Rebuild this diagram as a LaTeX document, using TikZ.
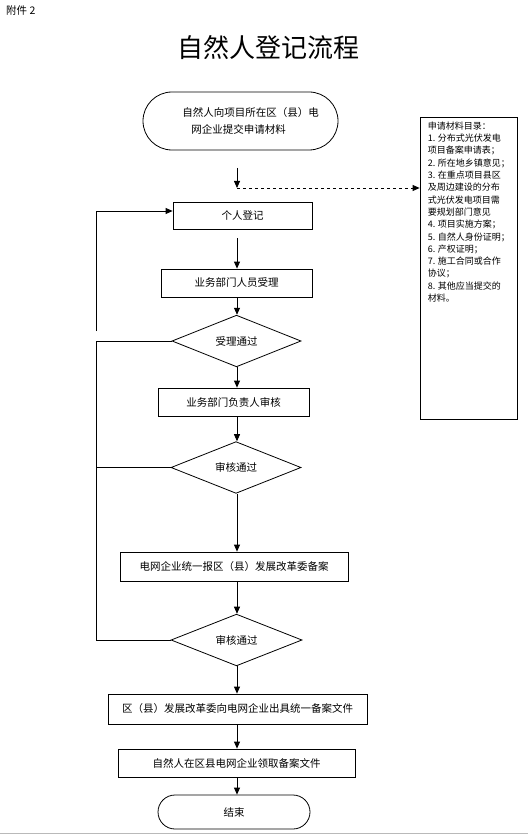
\documentclass[tikz,border=0pt]{standalone}
\usepackage{fontspec}
\setmainfont{Noto Sans CJK SC}
\usepackage{tikz}
\usetikzlibrary{arrows.meta,shapes.geometric,calc}
\usepackage{xcolor}
\definecolor{InkK} {RGB}{0,  0,  0}
\definecolor{PageG}{RGB}{185,185,185}

\begin{document}
\begin{tikzpicture}[x=1pt,y=-1pt,
    every node/.style={font=\fontsize{10.5}{12}\selectfont,inner sep=0pt},
    box/.style={draw=InkK,line width=0.8pt,rectangle,minimum height=28pt},
    term/.style={draw=InkK,line width=0.8pt,rounded corners=17pt},
    check/.style={draw=InkK,line width=0.8pt,diamond,minimum width=130pt,minimum height=47pt},
    arr/.style={-{Triangle[length=7pt,width=6pt]},line width=0.8pt,InkK},
    back/.style={line width=0.8pt,InkK}]
  \useasboundingbox (0,0) rectangle (528,837);
  \draw[PageG,line width=0.6pt] (0,833) -- (528,833);

  % heading
  \node[anchor=west] (att) at (6,10.5) {附件 2};
  \node[font=\fontsize{26}{30}\selectfont] (title) at (268,47.5) {自然人登记流程};

  % main column
  \node[term,rounded corners=29pt,minimum width=195pt,minimum height=58pt,align=left] (start) at (240.5,121)
    {\hspace*{20pt}自然人向项目所在区（县）电\\[5pt]\hspace*{29pt}网企业提交申请材料};
  \node[box,minimum width=139pt,minimum height=27pt] (reg) at (242.5,215.5) {个人登记};
  \node[box,minimum width=151pt] (acc) at (236.5,283) {业务部门人员受理};
  \node[check,minimum width=129pt,minimum height=46pt] (okA) at (236.5,341) {受理通过};
  \node[box,minimum width=151pt] (rev) at (233.5,402) {业务部门负责人审核};
  \node[check] (okB) at (236,467.5) {审核通过};
  \node[box,minimum width=228pt,minimum height=29pt] (grid) at (234,566.5) {电网企业统一报区（县）发展改革委备案};
  \node[check,minimum width=131pt,minimum height=48pt] (okC) at (236.5,640) {审核通过};
  \node[box,minimum width=259pt,minimum height=30pt] (file) at (237.5,709) {区（县）发展改革委向电网企业出具统一备案文件};
  \node[box,minimum width=237pt] (take) at (236.5,763) {自然人在区县电网企业领取备案文件};
  \node[term,minimum width=152pt,minimum height=34pt] (end) at (234,812) {结束};

  % list of materials
  \node[draw=InkK,line width=0.8pt,minimum width=97pt,minimum height=302pt] (mat) at (468.5,268) {};
  \node[anchor=north west,align=left,font=\fontsize{9}{12.3}\selectfont] (matlist)
    at ([xshift=8pt,yshift=-5pt]mat.north west)
    {申请材料目录：\\1. 分布式光伏发电\\项目备案申请表；\\2. 所在地乡镇意见；\\3. 在重点项目县区\\及周边建设的分布\\式光伏发电项目需\\要规划部门意见\\4. 项目实施方案；\\5. 自然人身份证明；\\6. 产权证明；\\7. 施工合同或合作\\协议；\\8. 其他应当提交的\\材料。};

  % connectors
  \coordinate (ax) at (237,0);
  \coordinate (lp) at (96,0);
  \coordinate (top) at (237,168);
  \coordinate (split) at (237,188);
  \coordinate (lb) at (96,331);
  \draw[arr] (top) -- (split);
  \draw[arr,dashed] (split) -- (mat.west |- split);
  \draw[arr,shorten <=9pt] (reg.south -| ax) -- (acc.north -| ax);
  \draw[arr] (acc.south -| ax) -- (okA.north -| ax);
  \draw[arr] (okA.south -| ax) -- (rev.north -| ax);
  \draw[arr] (rev.south -| ax) -- (okB.north -| ax);
  \draw[arr] (okB.south -| ax) -- (grid.north -| ax);
  \draw[arr] (grid.south -| ax) -- (okC.north -| ax);
  \draw[arr] (okC.south -| ax) -- (file.north -| ax);
  \draw[arr] (file.south -| ax) -- (take.north -| ax);
  \draw[arr] (take.south -| ax) -- (end.north -| ax);

  % way back
  \draw[back] (okA.west) -- (okA.west -| lp) -- (okC.west -| lp) -- (okC.west);
  \draw[back] (okB.west) -- (okB.west -| lp);
  \draw[arr] (lb) |- ([yshift=4.5pt]reg.west);
\end{tikzpicture}
\end{document}
